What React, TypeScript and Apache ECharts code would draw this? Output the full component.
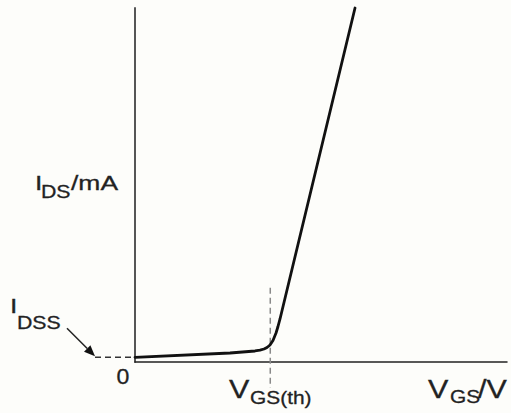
import React, { useEffect, useRef } from "react";
import * as echarts from "echarts";

// Transfer characteristic (arbitrary units)
const vgs = [0, 1.405, 1.774, 1.848, 1.907, 1.952, 1.996, 2.04, 2.085, 2.114, 2.144, 3.253];
const ids = [1.33, 2.54, 3.11, 3.33, 3.67, 4.1, 4.8, 6.07, 8.19, 10.03, 12.15, 100];
const VTH = 2.0;
const VTH_MARK_TOP = 21;
const IDSS = ids[0];
const X_MAX = 5.5;
const Y_MAX = 100;

const FONT = '"Liberation Sans", Arial, sans-serif';
const TXT = "#222";

function txt(text: string, x: number, y: number, size: number, sx: number, align = "left") {
  return {
    type: "text",
    x,
    y,
    scaleX: sx,
    style: {
      text,
      fill: TXT,
      font: `${size}px ${FONT}`,
      textAlign: align,
      verticalAlign: "middle",
      stroke: TXT,
      lineWidth: 0.3,
    },
    silent: true,
  };
}

export default function App() {
  const ref = useRef<HTMLDivElement>(null);
  useEffect(() => {
    if (!ref.current) return;
    const chart = echarts.init(ref.current, undefined, { renderer: "svg" });
    chart.setOption({
      animation: false,
      backgroundColor: "#fdfdfa",
      grid: { left: 135, top: 8, right: 4, bottom: 51, containLabel: false },
      xAxis: {
        type: "value",
        min: 0,
        max: X_MAX,
        axisLine: { show: true, lineStyle: { color: "#222", width: 1.5 } },
        axisTick: { show: false },
        axisLabel: { show: false },
        splitLine: { show: false },
      },
      yAxis: {
        type: "value",
        min: 0,
        max: Y_MAX,
        axisLine: { show: true, lineStyle: { color: "#555", width: 2 } },
        axisTick: { show: false },
        axisLabel: { show: false },
        splitLine: { show: false },
      },
      series: [
        {
          type: "line",
          data: vgs.map((v, i) => [v, ids[i]]),
          showSymbol: false,
          smooth: false,
          clip: false,
          lineStyle: { color: "#111", width: 2.8, join: "round", cap: "round" },
          z: 5,
        },
      ],
    });

    const pV = chart.convertToPixel({ gridIndex: 0 }, [VTH, VTH_MARK_TOP]) as number[];
    const pI = chart.convertToPixel({ gridIndex: 0 }, [0, IDSS]) as number[];
    const dashStartX = pI[0] - 40;
    const tip = [dashStartX, pI[1] - 1];
    const tail = [tip[0] - 28, tip[1] - 28];
    const u = [0.7071, 0.7071];
    const hl = 11;
    const hw = 4.5;
    const base = [tip[0] - u[0] * hl, tip[1] - u[1] * hl];

    chart.setOption({
      graphic: [
        {
          type: "line",
          shape: { x1: pV[0], y1: pV[1], x2: pV[0], y2: 388 },
          style: { stroke: "#8a8a8a", lineWidth: 1.5, lineDash: [6, 4] },
          z: 1,
        },
        {
          type: "line",
          shape: { x1: dashStartX, y1: pI[1], x2: pI[0], y2: pI[1] },
          style: { stroke: "#333", lineWidth: 1.5, lineDash: [6, 4] },
        },
        {
          type: "line",
          shape: { x1: tail[0], y1: tail[1], x2: base[0], y2: base[1] },
          style: { stroke: "#222", lineWidth: 1.5 },
        },
        {
          type: "polygon",
          shape: {
            points: [
              tip,
              [base[0] - u[1] * hw, base[1] + u[0] * hw],
              [base[0] + u[1] * hw, base[1] - u[0] * hw],
            ],
          },
          style: { fill: "#111" },
        },
        // y-axis label I_DS/mA
        txt("I", 35, 182.5, 21, 1.26),
        txt("DS", 41, 191, 19, 1.12),
        txt("/mA", 71, 183, 21, 1.26),
        // I_DSS
        txt("I", 10, 306, 21, 1.26),
        txt("DSS", 17, 322, 19, 1.12),
        // origin
        txt("0", 123, 376.5, 22, 1.05, "center"),
        // V_GS(th)
        txt("V", 229, 389, 25, 1.22),
        txt("GS(th)", 250, 397, 19, 1.1),
        // V_GS/V
        txt("V", 428, 389, 25, 1.22),
        txt("GS", 450, 396, 19, 1.1),
        txt("/V", 478, 389, 25, 1.22),
      ],
    });

    return () => chart.dispose();
  }, []);
  return (
    <div
      ref={ref}
      style={{ position: "fixed", left: 0, top: 0, width: 511, height: 413 }}
    />
  );
}
